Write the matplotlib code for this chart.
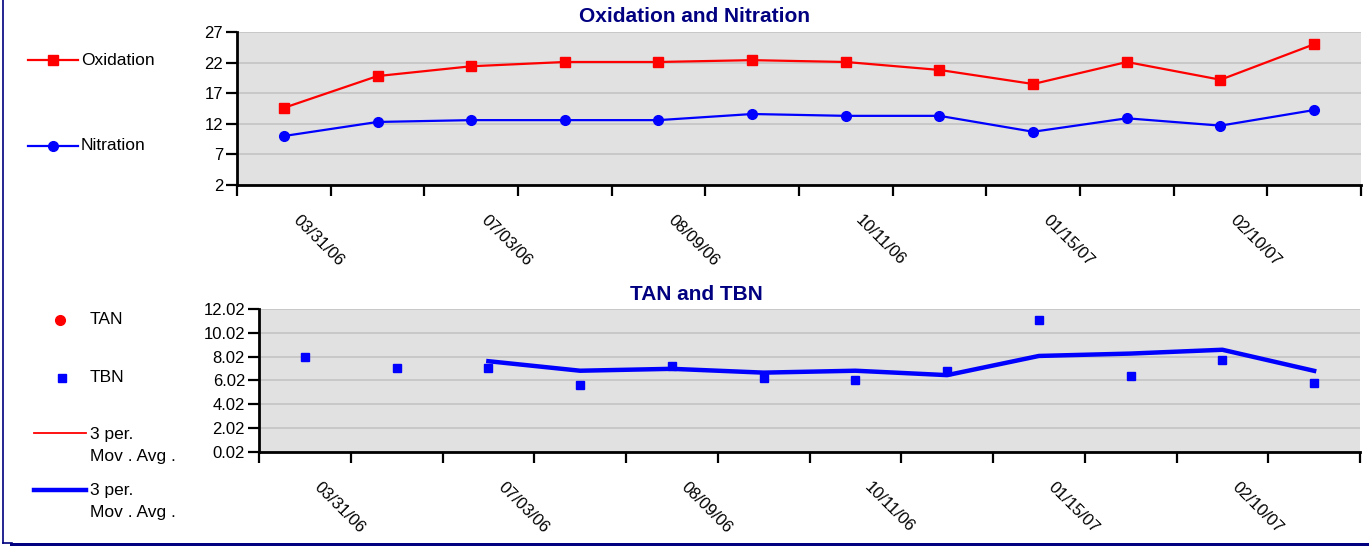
import matplotlib
matplotlib.use("Agg")
import matplotlib.pyplot as plt
import matplotlib.transforms as mtrans
from matplotlib.lines import Line2D
from matplotlib.patches import Rectangle
import numpy as np

plt.rcParams['font.family'] = ['Liberation Sans', 'DejaVu Sans']

# ---------------- data ----------------
dates = ["03/31/06", "", "07/03/06", "", "08/09/06", "", "10/11/06", "",
         "01/15/07", "", "02/10/07", ""]
oxidation = [14.6, 19.8, 21.4, 22.1, 22.1, 22.4, 22.1, 20.8, 18.5, 22.1, 19.2, 25.0]
nitration = [10.0, 12.3, 12.6, 12.6, 12.6, 13.6, 13.3, 13.3, 10.7, 12.9, 11.7, 14.25]
tbn = [8.02, 7.08, 7.10, 5.64, 7.25, 6.23, 6.08, 6.80, 11.13, 6.42, 7.77, 5.83]
tbn_mavg = [None, None, 7.64, 6.84, 7.00, 6.68, 6.84, 6.47, 8.08, 8.28, 8.60, 6.83]
top_yticks = [2, 7, 12, 17, 22, 27]
bot_yticks = [0.02, 2.02, 4.02, 6.02, 8.02, 10.02, 12.02]

W, H = 1369, 546
fig = plt.figure(figsize=(W / 100, H / 100), dpi=100)
fig.patch.set_facecolor('white')

BG = '#e1e1e1'
GRID = '#c6c6c6'
NAVY = '#000080'


def px_axes(l, t, r, b):
    return fig.add_axes([l / W, 1 - b / H, (r - l) / W, (b - t) / H])


def style_axes(ax, yticks, fmt):
    n = len(dates)
    ax.set_facecolor(BG)
    ax.set_xlim(0, n)
    ax.set_ylim(yticks[0], yticks[-1])
    ax.set_yticks(yticks)
    ax.set_yticklabels([fmt.format(v) for v in yticks], fontsize=12)
    ax.yaxis.grid(True, color=GRID, lw=1.3)
    ax.set_axisbelow(True)
    for s in ['top', 'right']:
        ax.spines[s].set_visible(False)
    for s in ['left', 'bottom']:
        ax.spines[s].set_linewidth(2)
        ax.spines[s].set_color('black')
    ax.set_xticks(np.arange(0, n + 1))
    ax.set_xticklabels([])
    ax.tick_params(axis='both', which='major', direction='out', length=8,
                   width=1.6, colors='black', pad=2)
    ax.set_xticks(np.arange(n) + 0.5, minor=True)
    ax.set_xticklabels(dates, minor=True, rotation=-45, ha='left', va='center',
                       rotation_mode='anchor', fontsize=12)
    ax.tick_params(axis='x', which='minor', length=0, pad=0)
    off = mtrans.ScaledTranslation(12 / 100, -33 / 100, fig.dpi_scale_trans)
    for lab in ax.get_xticklabels(minor=True):
        lab.set_transform(lab.get_transform() + off)


x = np.arange(len(dates)) + 0.5

# ---------------- top chart ----------------
ax1 = px_axes(237, 32, 1361, 185)
style_axes(ax1, top_yticks, "{:g}")
l_ox, = ax1.plot(x, oxidation, color='#ff0000', lw=1.6, marker='s', ms=7.5,
                 label='Oxidation', zorder=3)
l_ni, = ax1.plot(x, nitration, color='#0000ff', lw=1.6, marker='o', ms=7,
                 label='Nitration', zorder=3)
fig.text(695 / W, 1 - 17 / H, "Oxidation and Nitration", ha='center', va='center',
         fontsize=15, fontweight='bold', color=NAVY)

# ---------------- bottom chart ----------------
ax2 = px_axes(259, 309, 1360, 452)
style_axes(ax2, bot_yticks, "{:.2f}")
mx = [xi for xi, v in zip(x, tbn_mavg) if v is not None]
mv = [v for v in tbn_mavg if v is not None]
l_ma, = ax2.plot(mx, mv, color='#0000ff', lw=3.2, zorder=2,
                 label='3 per.\nMov . Avg .')
l_tbn, = ax2.plot(x, tbn, ls='none', marker='s', ms=6, color='#0000ff',
                  label='TBN', zorder=3)
fig.text(696 / W, 1 - 294 / H, "TAN and TBN", ha='center', va='center',
         fontsize=15, fontweight='bold', color=NAVY)


# ---------------- legends (drawn manually) ----------------
LFS = 12.5


def leg_line(x0, x1, y, text_x, texts, **kw):
    fig.add_artist(Line2D([x0 / W, x1 / W], [1 - y / H, 1 - y / H],
                          transform=fig.transFigure, **kw))
    for t, ty in texts:
        fig.text(text_x / W, 1 - ty / H, t, ha='left', va='center', fontsize=LFS)


def leg_marker(xm, y, text_x, text, **kw):
    fig.add_artist(Line2D([xm / W], [1 - y / H], transform=fig.transFigure,
                          ls='none', **kw))
    fig.text(text_x / W, 1 - y / H, text, ha='left', va='center', fontsize=LFS)


leg_line(28, 78, 60, 81, [("Oxidation", 60)], color=l_ox.get_color(), lw=1.6)
fig.add_artist(Line2D([53 / W], [1 - 60 / H], transform=fig.transFigure, ls='none',
                      marker='s', ms=7.5, color=l_ox.get_color()))
leg_line(28, 78, 146, 81, [("Nitration", 146)], color=l_ni.get_color(), lw=1.6)
fig.add_artist(Line2D([53 / W], [1 - 146 / H], transform=fig.transFigure, ls='none',
                      marker='o', ms=7, color=l_ni.get_color()))

leg_marker(60, 320, 90, "TAN", marker='o', ms=7, color='#ff0000')
leg_marker(62, 378, 90, "TBN", marker='s', ms=6, color='#0000ff')
leg_line(34, 86, 433, 90, [("3 per.", 434), ("Mov . Avg .", 456)],
         color='#ff0000', lw=1.3)
leg_line(34, 86, 490, 90, [("3 per.", 491), ("Mov . Avg .", 513)],
         color='#0000ff', lw=3.2)

# ---------------- frame ----------------
fig.add_artist(Line2D([2.5 / W, 2.5 / W], [1.0, 1 - 543 / H],
                      transform=fig.transFigure, color=NAVY, lw=1.2))
fig.add_artist(Line2D([2.5 / W, 12 / W], [1 - 543 / H, 1 - 543 / H],
                      transform=fig.transFigure, color=NAVY, lw=1.2))
fig.add_artist(Rectangle((10 / W, 0), 1 - 10 / W, 3.5 / H, transform=fig.transFigure,
                         facecolor=NAVY, edgecolor='none'))

fig.savefig("out.png", dpi=100, facecolor='white')
